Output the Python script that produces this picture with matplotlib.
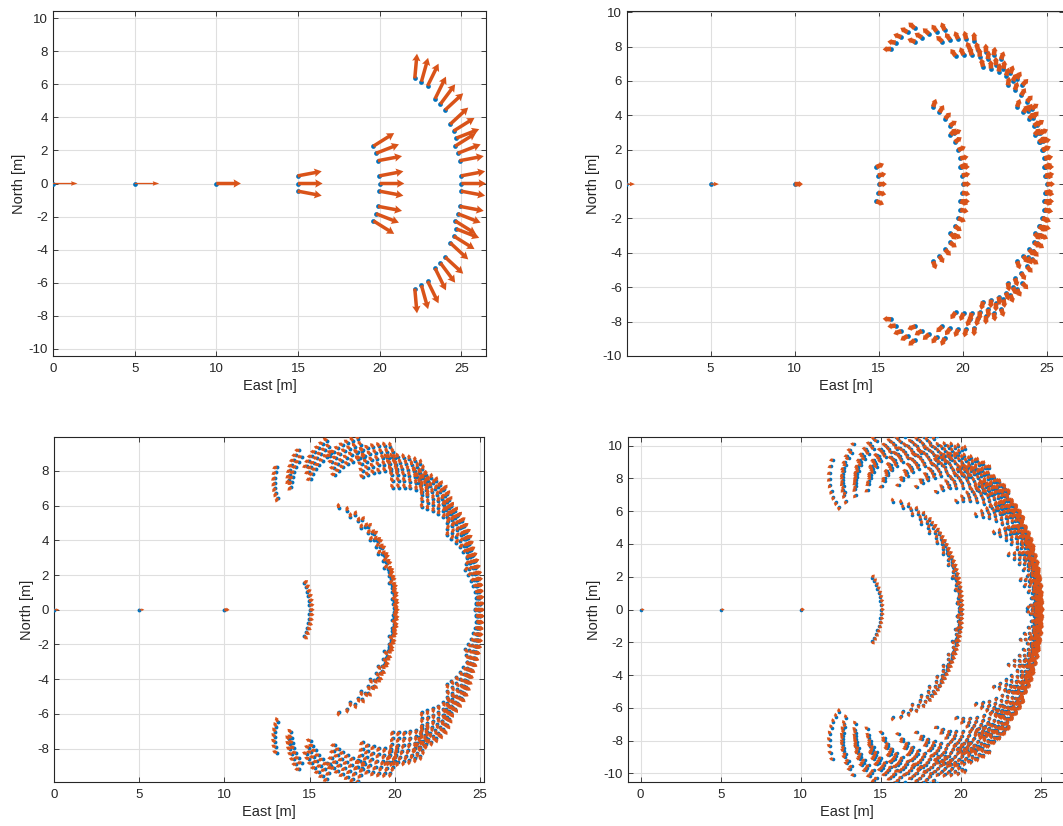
import numpy as np
import matplotlib.pyplot as plt

plt.rcParams['font.family'] = ['Liberation Sans', 'DejaVu Sans']
plt.rcParams['axes.unicode_minus'] = False

blue = '#0072BD'
orange = '#D95319'
axcol = '#262626'

# straight start shared by the four runs (East of the first three stops)
start_east = [0.0, 5.0, 10.0]
step_len = 5.0

# half spread [deg] of the branch fan at stops 3, 4, 5 and points per fan
spread_tl = [5.3, 5.3, 5.3]
count_tl = [3, 3, 3]
spread_tr = [11.5, 11.5, 11.5]
count_tr = [5, 5, 5]
spread_bl = [18.1, 18.1, 12.0]
count_bl = [13, 7, 7]
spread_br = [23.7, 23.7, 20.0]
count_br = [17, 9, 9]
# growth of a branch's turn into stops 4 and 5
gain_tl = [2.0, 2.0]
gain_tr = [2.0, 2.0]
gain_bl = [1.59, 2.0]
gain_br = [1.14, 1.8]


def branch_tree(spread, count, gain):
    xs = [np.array([e]) for e in start_east]
    ys = [np.zeros(1) for _ in start_east]
    hs = [np.zeros(1) for _ in start_east]
    x, y = xs[-1], ys[-1]
    chord = np.zeros(1)
    turn = np.zeros(1)
    head = np.zeros(1)
    for s, n, g in zip(spread, count, [0.0] + list(gain)):
        off = np.deg2rad(np.linspace(-s, s, n))
        turn = (g * turn[:, None] + off[None, :]).ravel()
        chord = np.repeat(chord, n) + turn
        prev = np.repeat(head, n)
        head = 2 * chord - prev
        seg = step_len * np.sinc((head - prev) / (2 * np.pi))
        x = np.repeat(x, n) + seg * np.cos(chord)
        y = np.repeat(y, n) + seg * np.sin(chord)
        xs.append(x)
        ys.append(y)
        hs.append(head)
    return xs, ys, hs


W, H = 1063, 826
fig = plt.figure(figsize=(W / 100, H / 100), dpi=100)

# panel boxes in pixels: left, top, right, bottom
panels = [
    dict(box=(53, 11, 486, 356), xlim=(0, 26.5), ylim=(-10.44, 10.44),
         xt=[0, 5, 10, 15, 20, 25], yt=range(-10, 11, 2),
         tree=(spread_tl, count_tl, gain_tl), alen=1.5, w=(1.3, 3.5), hw=(3.5, 2.4), hl=(5, 2.1), ms=3.4),
    dict(box=(627, 11, 1064, 356), xlim=(0.03, 26.04), ylim=(-10.0, 10.07),
         xt=[5, 10, 15, 20, 25], yt=range(-10, 11, 2),
         tree=(spread_tr, count_tr, gain_tr), alen=0.5, w=(1.3, 4.6), hw=(3.5, 1.45), hl=(4, 0.9), ms=3.4),
    dict(box=(54, 437, 484, 782), xlim=(0, 25.24), ylim=(-9.93, 9.96),
         xt=[0, 5, 10, 15, 20, 25], yt=range(-8, 9, 2),
         tree=(spread_bl, count_bl, gain_bl), alen=0.3, w=(1.0, 3.0), hw=(3, 1.5), hl=(3, 1.0), ms=2.8),
    dict(box=(628, 437, 1065, 782), xlim=(-0.79, 26.5), ylim=(-10.53, 10.53),
         xt=[0, 5, 10, 15, 20, 25], yt=range(-10, 11, 2),
         tree=(spread_br, count_br, gain_br), alen=0.25, w=(1.0, 2.8), hw=(3, 1.5), hl=(3, 1.0), ms=2.6),
]

for p in panels:
    l, t, r, b = p['box']
    ax = fig.add_axes([l / W, 1 - b / H, (r - l) / W, (b - t) / H])
    xs, ys, hs = branch_tree(*p['tree'])
    L = p['alen']
    for g, (x, y, h) in enumerate(zip(xs, ys, hs)):
        k = 0 if g < 2 else 1
        ax.plot(x, y, 'o', color=blue, ms=p['ms'], mew=0, zorder=3)
        ax.quiver(x, y, L * np.cos(h), L * np.sin(h), angles='xy', scale_units='xy', scale=1,
                  color=orange, units='dots', width=p['w'][k], headwidth=p['hw'][k],
                  headlength=p['hl'][k], headaxislength=p['hl'][k] * 0.9, zorder=4)
    ax.set_xlim(*p['xlim'])
    ax.set_ylim(*p['ylim'])
    ax.set_xticks(p['xt'])
    ax.set_yticks(list(p['yt']))
    ax.grid(True, color='#dfdfdf', lw=0.8)
    ax.set_axisbelow(True)
    for s in ax.spines.values():
        s.set_color(axcol)
        s.set_linewidth(0.8)
    ax.tick_params(direction='in', length=3.5, width=0.6, color=axcol, labelcolor=axcol,
                   labelsize=9.5, top=True, right=True)
    ax.tick_params(axis='x', pad=5)
    ax.tick_params(axis='y', pad=3.5)
    ax.set_xlabel('East [m]', fontsize=10.5, color=axcol, labelpad=3)
    ax.set_ylabel('North [m]', fontsize=10.5, color=axcol, labelpad=2)

fig.savefig('out.png', dpi=100)
